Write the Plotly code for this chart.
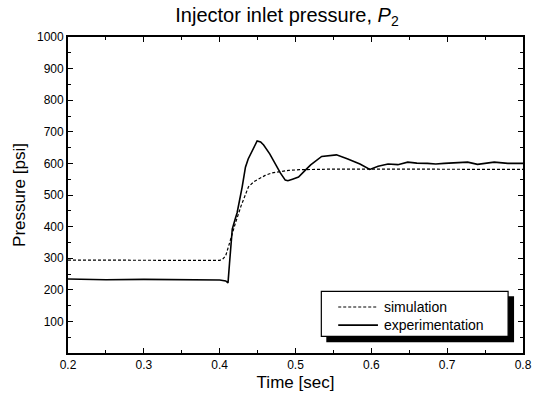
import plotly.graph_objects as go

# Simulation (dashed)
sim_t = [0.2, 0.3, 0.4, 0.404, 0.408, 0.412, 0.416, 0.421, 0.428, 0.433, 0.438,
         0.445, 0.452, 0.46, 0.469, 0.48, 0.491, 0.505, 0.52, 0.55, 0.6, 0.7, 0.8]
sim_p = [294, 293, 293, 297, 308, 340, 375, 413, 464, 497, 526,
         542, 552, 562, 570, 575, 578, 580, 581, 582, 582, 582, 581]

# Experimentation (solid)
exp_t = [0.2, 0.25, 0.3, 0.35, 0.4, 0.408, 0.411, 0.413, 0.4166, 0.420, 0.423,
         0.4297, 0.434, 0.4376, 0.443, 0.4494, 0.454, 0.458, 0.466, 0.4734, 0.480,
         0.4865, 0.490, 0.496, 0.504, 0.5127, 0.520, 0.5345, 0.554, 0.569, 0.585,
         0.598, 0.609, 0.622, 0.635, 0.648, 0.660, 0.674, 0.685, 0.696, 0.710,
         0.727, 0.740, 0.750, 0.762, 0.780, 0.801]
exp_p = [234, 232, 233, 232, 231, 228, 222, 284, 392, 420, 444,
         526, 588, 614, 640, 671, 668, 658, 630, 598, 570,
         547, 545, 550, 557, 578, 595, 622, 627, 614, 598,
         581, 591, 598, 596, 604, 601, 600, 598, 600, 602,
         604, 597, 600, 604, 600, 600]

series_names = ["simulation", "experimentation"]
x_ticks = [0.2, 0.3, 0.4, 0.5, 0.6, 0.7, 0.8]
y_ticks = [100, 200, 300, 400, 500, 600, 700, 800, 900, 1000]

FONT = "Liberation Sans, Arial, sans-serif"
W, H = 544, 401
L, R, T, B = 68, 18, 37, 41
PW, PH = W - L - R, H - T - B


def px(x):
    return (x - L) / PW


def py(y):
    return (H - B - y) / PH


fig = go.Figure()
fig.add_trace(go.Scatter(x=sim_t, y=sim_p, mode="lines", name=series_names[0],
                         line=dict(color="black", width=1.2, dash="3px,2px"),
                         showlegend=False))
fig.add_trace(go.Scatter(x=exp_t, y=exp_p, mode="lines", name=series_names[1],
                         line=dict(color="black", width=1.6),
                         showlegend=False))

axis_common = dict(showline=True, linecolor="black", linewidth=1.8, mirror="ticks",
                   ticks="inside", ticklen=5, tickwidth=1.2, tickcolor="black",
                   showgrid=False, zeroline=False,
                   tickfont=dict(family=FONT, size=12, color="black"))

fig.update_xaxes(range=[0.2, 0.8], tickvals=x_ticks,
                 ticktext=[f"{v:.1f}" for v in x_ticks],
                 minor=dict(ticks="inside", ticklen=3, tickcolor="black", dtick=0.05,
                            showgrid=False),
                 title=dict(text="Time [sec]", font=dict(family=FONT, size=17, color="black"),
                            standoff=5),
                 **axis_common)
fig.update_yaxes(range=[0, 1000], tickvals=y_ticks,
                 minor=dict(ticks="inside", ticklen=3, tickcolor="black", dtick=50,
                            showgrid=False),
                 title=dict(text="Pressure [psi]", font=dict(family=FONT, size=17, color="black"),
                            standoff=7),
                 **axis_common)

# legend: shadow, box, samples, labels
fig.add_shape(type="rect", xref="paper", yref="paper",
              x0=px(328), x1=px(517), y0=py(349), y1=py(302),
              fillcolor="black", line=dict(width=0), layer="above")
fig.add_shape(type="rect", xref="paper", yref="paper",
              x0=px(323), x1=px(511), y0=py(343), y1=py(297),
              fillcolor="white", line=dict(color="black", width=1.2), layer="above")
rows = [313, 331.5]
styles = [dict(color="black", width=1.2, dash="3px,2px"), dict(color="black", width=1.6)]
for name, yy, st in zip(series_names, rows, styles):
    fig.add_shape(type="line", xref="paper", yref="paper",
                  x0=px(340), x1=px(380), y0=py(yy), y1=py(yy),
                  line=st, layer="above")
    fig.add_annotation(xref="paper", yref="paper", x=px(384), y=py(yy),
                       xanchor="left", yanchor="middle", showarrow=False,
                       text=name, font=dict(family=FONT, size=14, color="black"))

fig.update_layout(
    width=W, height=H,
    margin=dict(l=L, r=R, t=T, b=B),
    paper_bgcolor="white", plot_bgcolor="white",
    title=dict(text="Injector inlet pressure, <i>P</i><sub>2</sub>",
               font=dict(family=FONT, size=20, color="black"),
               x=287 / W, xanchor="center", y=1 - 15 / H, yanchor="middle"),
    showlegend=False,
)

fig.write_html("out.html")
